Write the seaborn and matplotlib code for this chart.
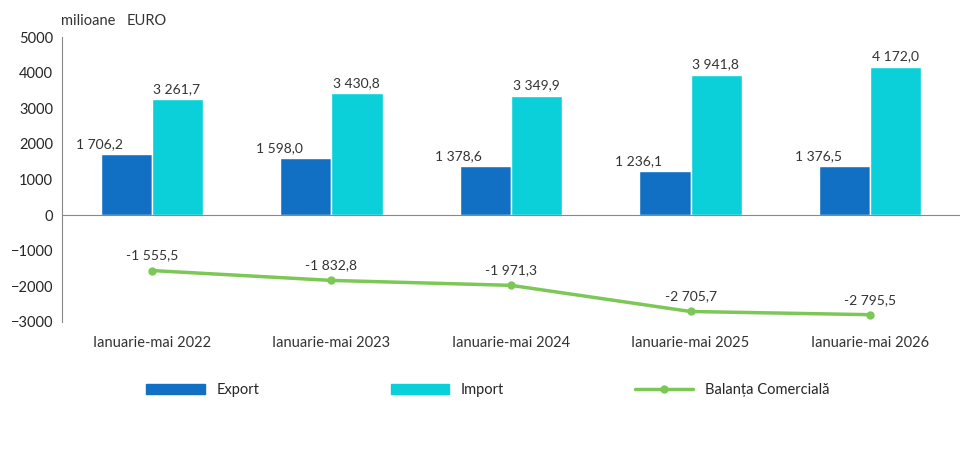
import numpy as np
import pandas as pd
import matplotlib
matplotlib.use('Agg')
import matplotlib.pyplot as plt
import seaborn as sns
from matplotlib.lines import Line2D
from matplotlib.patches import Patch

# ── Data ──────────────────────────────────────────────────────────────────────
periods = ["Ianuarie-mai 2022", "Ianuarie-mai 2023", "Ianuarie-mai 2024",
           "Ianuarie-mai 2025", "Ianuarie-mai 2026"]
export_vals = [1706.2, 1598.0, 1378.6, 1236.1, 1376.5]
import_vals = [3261.7, 3430.8, 3349.9, 3941.8, 4172.0]
balance_vals = [-1555.5, -1832.8, -1971.3, -2705.7, -2795.5]

C_EXP, C_IMP, C_BAL = "#1270C4", "#0BD0D9", "#7CC857"


def fmt(v):
    s = f"{abs(v):,.1f}".replace(",", " ").replace(".", ",")
    return ("-" if v < 0 else "") + s


df = pd.DataFrame({
    "period": periods * 2,
    "value": export_vals + import_vals,
    "series": ["Export"] * 5 + ["Import"] * 5,
})

sns.set_style("white")
plt.rcParams['font.family'] = ['Lato', 'DejaVu Sans']

fig = plt.figure(figsize=(9.76, 4.58), dpi=100)
ax = fig.add_axes([0.0635, 0.297, 0.92, 0.622])

sns.barplot(data=df, x="period", y="value", hue="series",
            palette=[C_EXP, C_IMP], width=0.57, ax=ax, legend=False,
            saturation=1)
x = np.arange(len(periods))
ax.plot(x, balance_vals, color=C_BAL, lw=2.5, marker="o", ms=5)

for i in range(len(periods)):
    ax.text(i - 0.29, export_vals[i] + 120, fmt(export_vals[i]),
            ha="center", va="bottom", fontsize=10, color="#333333")
    ax.text(i + 0.14, import_vals[i] + 120, fmt(import_vals[i]),
            ha="center", va="bottom", fontsize=10, color="#333333")
    ax.text(i, balance_vals[i] + 250, fmt(balance_vals[i]),
            ha="center", va="bottom", fontsize=10, color="#333333")

ax.set_ylim(-3000, 5000)
ax.set_yticks(range(-3000, 5001, 1000))
ax.set_xlim(-0.5, 4.5)
ax.axhline(0, color="#888888", lw=0.8)
for s in ["top", "right", "bottom"]:
    ax.spines[s].set_visible(False)
ax.spines["left"].set_color("#888888")
ax.tick_params(axis="y", labelsize=10.5, length=3, color="#888888")
ax.tick_params(axis="x", labelsize=10.5, length=0, pad=10)
ax.set_xlabel("")
ax.set_ylabel("")
# category labels below the plot
ax.set_xticks(x)
ax.set_xticklabels(periods, color="#333333")
ax.xaxis.set_ticks_position("bottom")

fig.text(0.062, 0.955, "milioane ", fontsize=10.5, va="center", ha="left",
         color="#333333")
fig.text(0.13, 0.955, "EURO", fontsize=10.5, va="center", ha="left",
         color="#333333")

handles = [Patch(color=C_EXP, label="Export"),
           Patch(color=C_IMP, label="Import"),
           Line2D([], [], color=C_BAL, lw=2.5, marker="o", ms=5,
                  label="Balanța Comercială")]
fig.legend(handles=handles, loc="center", bbox_to_anchor=(0.5, 0.148),
           ncol=3, frameon=False, fontsize=10.5, columnspacing=9,
           handlelength=4, handleheight=0.6)

fig.savefig("out.png", dpi=100)
